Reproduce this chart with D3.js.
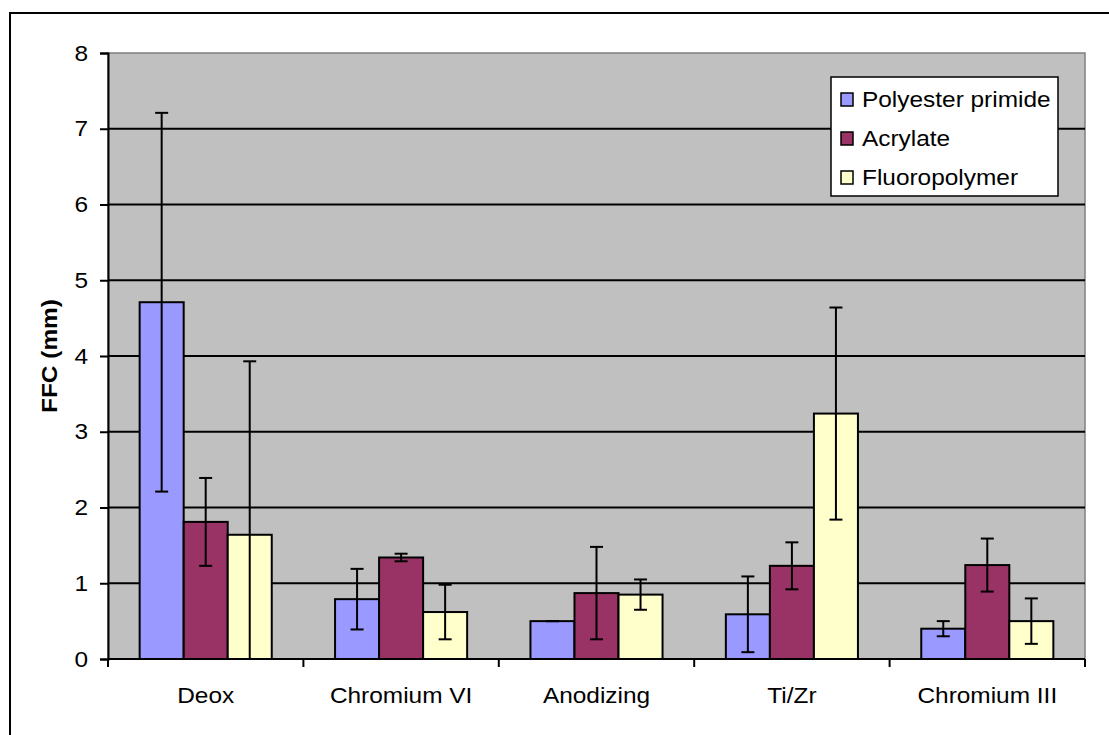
<!DOCTYPE html>
<html>
<head>
<meta charset="utf-8">
<script src="https://cdn.jsdelivr.net/npm/d3@7"></script>
<style>
  body { margin: 0; background: #fff; }
  text { font-family: "Liberation Sans", Arial, sans-serif; }
</style>
</head>
<body>
<div id="chart"></div>
<script>
var categories = ['Deox', 'Chromium VI', 'Anodizing', 'Ti/Zr', 'Chromium III'];
var seriesNames = ['Polyester primide', 'Acrylate', 'Fluoropolymer'];
var colors = ['#9999ff', '#993366', '#ffffcc'];
// mean values per series (in category order)
var polyester = [4.71, 0.79, 0.50, 0.59, 0.40];
var acrylate = [1.81, 1.34, 0.87, 1.23, 1.24];
var fluoro = [1.64, 0.62, 0.85, 3.24, 0.50];
// +/- error per series
var polyesterErr = [2.5, 0.4, 0.0, 0.5, 0.1];
var acrylateErr = [0.58, 0.05, 0.61, 0.31, 0.35];
var fluoroErr = [2.29, 0.36, 0.2, 1.4, 0.3];
var yTicks = [0, 1, 2, 3, 4, 5, 6, 7, 8];

var values = [polyester, acrylate, fluoro];
var errors = [polyesterErr, acrylateErr, fluoroErr];

var width = 1109, height = 735;
var plot = { left: 108, top: 53, right: 1085, bottom: 659 };
var fs = 22, sx = 1.11; // text looks horizontally stretched in the original

var svg = d3.select('#chart').append('svg')
    .attr('width', width)
    .attr('height', height);

// outer chart border
svg.append('rect')
    .attr('x', 10).attr('y', 13)
    .attr('width', width + 20).attr('height', height + 20)
    .attr('fill', '#fff')
    .attr('stroke', '#000')
    .attr('stroke-width', 2);

var x0 = d3.scaleBand()
    .domain(categories)
    .range([plot.left, plot.right])
    .paddingInner(0.324)
    .paddingOuter(0.162);

var x1 = d3.scaleBand()
    .domain(seriesNames)
    .range([0, x0.bandwidth()]);

var y = d3.scaleLinear()
    .domain([0, 8])
    .range([plot.bottom, plot.top]);

// plot area
svg.append('rect')
    .attr('x', plot.left).attr('y', plot.top)
    .attr('width', plot.right - plot.left)
    .attr('height', plot.bottom - plot.top)
    .attr('fill', '#c0c0c0')
    .attr('stroke', '#808080')
    .attr('stroke-width', 1.5);

// gridlines
svg.append('g')
    .selectAll('line')
    .data(yTicks.filter(d => d > 0 && d < 8))
    .join('line')
    .attr('x1', plot.left).attr('x2', plot.right)
    .attr('y1', d => y(d)).attr('y2', d => y(d))
    .attr('stroke', '#000')
    .attr('stroke-width', 2);

// y axis
var gy = svg.append('g')
    .attr('transform', `translate(${plot.left},0)`)
    .call(d3.axisLeft(y).tickValues(yTicks).tickSize(8).tickFormat(d3.format('d')));
gy.select('.domain').attr('stroke', '#000').attr('stroke-width', 2);
gy.selectAll('.tick line').attr('stroke', '#000').attr('stroke-width', 2);
gy.selectAll('text')
    .attr('x', 0)
    .attr('transform', `translate(-20,0) scale(${sx},1)`)
    .style('font-size', fs + 'px')
    .attr('fill', '#000');

// x axis with ticks at band boundaries
var gx = svg.append('g')
    .attr('transform', `translate(0,${plot.bottom})`);
gx.append('line')
    .attr('x1', plot.left).attr('x2', plot.right)
    .attr('stroke', '#000').attr('stroke-width', 2);
var step = x0.step();
gx.selectAll('line.tk')
    .data(d3.range(categories.length + 1))
    .join('line')
    .attr('class', 'tk')
    .attr('x1', i => plot.left + i * step).attr('x2', i => plot.left + i * step)
    .attr('y1', 0).attr('y2', 8)
    .attr('stroke', '#000').attr('stroke-width', 2);
gx.selectAll('text')
    .data(categories)
    .join('text')
    .attr('transform', d => `translate(${x0(d) + x0.bandwidth() / 2},44) scale(${sx},1)`)
    .attr('text-anchor', 'middle')
    .style('font-size', fs + 'px')
    .text(d => d);

// y title
svg.append('text')
    .attr('transform', `translate(57,${(plot.top + plot.bottom) / 2}) rotate(-90) scale(${sx},1)`)
    .attr('text-anchor', 'middle')
    .style('font-size', fs + 'px')
    .style('font-weight', 'bold')
    .text('FFC (mm)');

// bars
var groups = svg.append('g')
    .selectAll('g')
    .data(categories)
    .join('g')
    .attr('transform', d => `translate(${x0(d)},0)`);

groups.selectAll('rect')
    .data((c, ci) => seriesNames.map((s, si) => ({ s: s, si: si, v: values[si][ci] })))
    .join('rect')
    .attr('x', d => x1(d.s))
    .attr('y', d => y(d.v))
    .attr('width', x1.bandwidth())
    .attr('height', d => y(0) - y(d.v))
    .attr('fill', d => colors[d.si])
    .attr('stroke', '#000')
    .attr('stroke-width', 2);

// error bars
var cap = 6.5;
var eb = groups.selectAll('g.err')
    .data((c, ci) => seriesNames.map((s, si) => ({
        s: s,
        hi: values[si][ci] + errors[si][ci],
        lo: Math.max(0, values[si][ci] - errors[si][ci]),
        clipped: values[si][ci] - errors[si][ci] < 0
    })))
    .join('g')
    .attr('class', 'err')
    .attr('transform', d => `translate(${x1(d.s) + x1.bandwidth() / 2},0)`);
eb.append('line')
    .attr('y1', d => y(d.hi)).attr('y2', d => y(d.lo))
    .attr('stroke', '#000').attr('stroke-width', 2);
eb.append('line')
    .attr('x1', -cap).attr('x2', cap)
    .attr('y1', d => y(d.hi)).attr('y2', d => y(d.hi))
    .attr('stroke', '#000').attr('stroke-width', 2);
eb.filter(d => !d.clipped).append('line')
    .attr('x1', -cap).attr('x2', cap)
    .attr('y1', d => y(d.lo)).attr('y2', d => y(d.lo))
    .attr('stroke', '#000').attr('stroke-width', 2);

// legend
var legend = svg.append('g').attr('transform', 'translate(831,77)');
legend.append('rect')
    .attr('width', 227).attr('height', 119)
    .attr('fill', '#fff')
    .attr('stroke', '#000')
    .attr('stroke-width', 1.5);
var li = legend.selectAll('g')
    .data(seriesNames)
    .join('g')
    .attr('transform', (d, i) => `translate(10,${22 + i * 39})`);
li.append('rect')
    .attr('x', 0).attr('y', -6)
    .attr('width', 12).attr('height', 13)
    .attr('fill', (d, i) => colors[i])
    .attr('stroke', '#000')
    .attr('stroke-width', 1.5);
li.append('text')
    .attr('transform', `translate(21,8) scale(${sx},1)`)
    .style('font-size', fs + 'px')
    .text(d => d);
</script>
</body>
</html>
